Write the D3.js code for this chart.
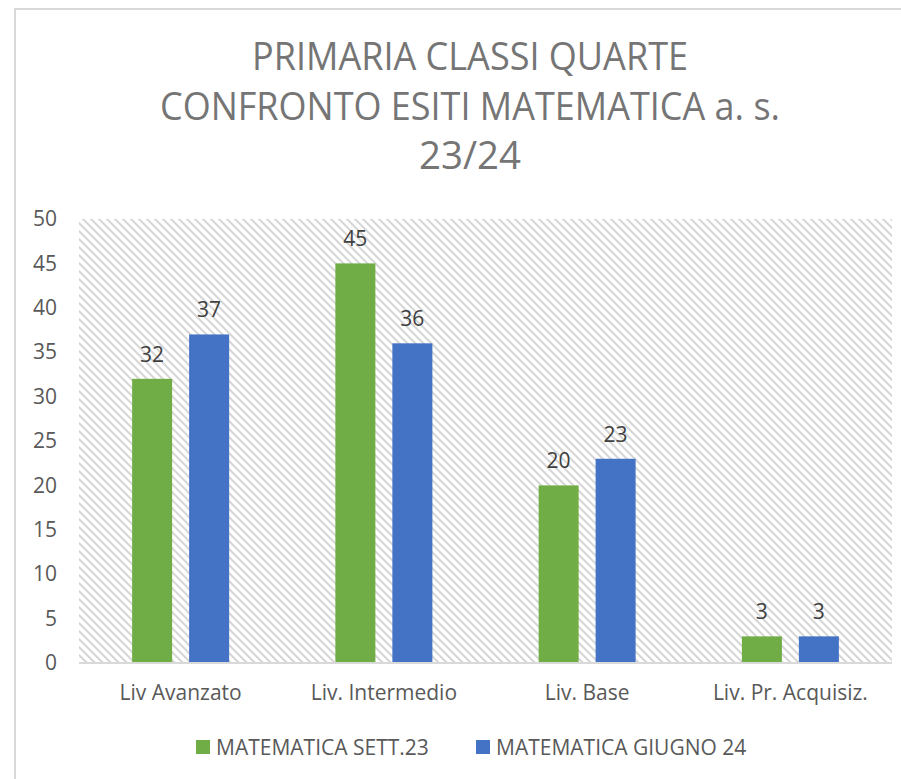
<!DOCTYPE html>
<html>
<head>
<meta charset="utf-8">
<script src="https://cdn.jsdelivr.net/npm/d3@7"></script>
<style>
  body { margin: 0; background: #fff; }
  svg { display: block; font-family: "Open Sans", "Noto Sans", sans-serif; }
</style>
</head>
<body>
<script>
// SET UP DIMENSIONS
var w = 901,
    h = 779;

// plot area edges
var plot = { left: 79, right: 892, top: 219, bottom: 663 };

// data
var categories = ['Liv Avanzato', 'Liv. Intermedio', 'Liv. Base', 'Liv. Pr. Acquisiz.'];
var seriesNames = ['MATEMATICA SETT.23', 'MATEMATICA GIUGNO 24'];
var sett23 = [32, 45, 20, 3];
var giugno24 = [37, 36, 23, 3];
var yTicks = [0, 5, 10, 15, 20, 25, 30, 35, 40, 45, 50];
var titleLines = ['PRIMARIA CLASSI QUARTE', 'CONFRONTO ESITI MATEMATICA a. s.', '23/24'];

var colors = ['#70ad47', '#4472c4'];
var seriesValues = [sett23, giugno24];

var svg = d3.select('body').append('svg')
  .attr('width', w)
  .attr('height', h);

// hatch pattern for the plot background
var defs = svg.append('defs');
var pat = defs.append('pattern')
  .attr('id', 'hatch')
  .attr('patternUnits', 'userSpaceOnUse')
  .attr('width', 8)
  .attr('height', 8);
pat.append('path')
  .attr('d', 'M-2,-2 L10,10 M-2,6 L2,10 M6,-2 L10,2')
  .attr('stroke', '#d6d6d6')
  .attr('stroke-width', 2);

// chart border (only left and top edges visible)
svg.append('path')
  .attr('d', 'M15,' + h + ' L15,9 L' + w + ',9')
  .attr('fill', 'none')
  .attr('stroke', '#d9d9d9')
  .attr('stroke-width', 2);

// TITLE
var titleX = 470,
    titleY = [70, 120, 169],
    titleLen = [436, 620, 102];
svg.append('g').selectAll('text')
  .data(titleLines)
  .enter().append('text')
    .attr('x', titleX)
    .attr('y', function(d, i) { return titleY[i]; })
    .attr('text-anchor', 'middle')
    .attr('textLength', function(d, i) { return titleLen[i]; })
    .attr('lengthAdjust', 'spacingAndGlyphs')
    .style('font-size', '38px')
    .style('fill', '#757575')
    .text(function(d) { return d; });

// SCALES
var x0 = d3.scaleBand()
  .domain(categories)
  .range([plot.left, plot.right]);

var groupWidth = 97;
var x1 = d3.scaleBand()
  .domain(seriesNames)
  .range([x0.bandwidth() / 2 - groupWidth / 2, x0.bandwidth() / 2 + groupWidth / 2])
  .paddingInner(0.298);

var y = d3.scaleLinear()
  .domain([0, 50])
  .range([plot.bottom, plot.top]);

// plot background
svg.append('rect')
  .attr('x', plot.left)
  .attr('y', plot.top)
  .attr('width', plot.right - plot.left)
  .attr('height', plot.bottom - plot.top)
  .attr('fill', 'url(#hatch)');

// Y AXIS
var yAxis = d3.axisLeft(y)
  .tickValues(yTicks)
  .tickSize(0)
  .tickPadding(22);

var gy = svg.append('g')
  .attr('transform', translation(plot.left, 0))
  .call(yAxis);
gy.select('.domain').remove();
gy.selectAll('text')
  .style('font-size', '21px')
  .style('font-family', '"Open Sans", sans-serif')
  .style('fill', '#595959');

// BARS
var rows = categories.map(function(c, i) {
  return { cat: c, vals: seriesNames.map(function(s, j) { return { name: s, value: seriesValues[j][i], idx: j }; }) };
});

var groups = svg.append('g').selectAll('g')
  .data(rows)
  .enter().append('g')
    .attr('transform', function(d) { return translation(x0(d.cat), 0); });

groups.selectAll('rect')
  .data(function(d) { return d.vals; })
  .enter().append('rect')
    .attr('x', function(d) { return x1(d.name); })
    .attr('y', function(d) { return y(d.value); })
    .attr('width', x1.bandwidth())
    .attr('height', function(d) { return y(0) - y(d.value); })
    .attr('fill', function(d) { return colors[d.idx]; });

// data labels
groups.selectAll('text')
  .data(function(d) { return d.vals; })
  .enter().append('text')
    .attr('x', function(d) { return x1(d.name) + x1.bandwidth() / 2; })
    .attr('y', function(d) { return y(d.value) - 17; })
    .attr('text-anchor', 'middle')
    .style('font-size', '21px')
    .style('fill', '#404040')
    .text(function(d) { return d.value; });

// zero line
svg.append('line')
  .attr('x1', plot.left)
  .attr('x2', plot.right)
  .attr('y1', y(0))
  .attr('y2', y(0))
  .attr('stroke', '#d9d9d9')
  .attr('stroke-width', 2);

// X AXIS (category labels)
var xAxis = d3.axisBottom(x0)
  .tickSize(0);

var gx = svg.append('g')
  .attr('transform', translation(0, plot.bottom))
  .call(xAxis);
gx.select('.domain').remove();
gx.selectAll('text')
  .attr('y', 37)
  .attr('dy', 0)
  .style('font-size', '21px')
  .style('font-family', '"Open Sans", sans-serif')
  .style('fill', '#595959');

// LEGEND
var legendX = [196, 476];
var legend = svg.append('g').selectAll('g')
  .data(seriesNames)
  .enter().append('g')
    .attr('transform', function(d, i) { return translation(legendX[i], 740); });

legend.append('rect')
  .attr('width', 14)
  .attr('height', 14)
  .attr('fill', function(d, i) { return colors[i]; });

legend.append('text')
  .attr('x', 20)
  .attr('y', 15)
  .style('font-size', '21px')
  .style('fill', '#595959')
  .text(function(d) { return d; });

function translation(x, y) {
  return 'translate(' + x + ',' + y + ')';
}
</script>
</body>
</html>
